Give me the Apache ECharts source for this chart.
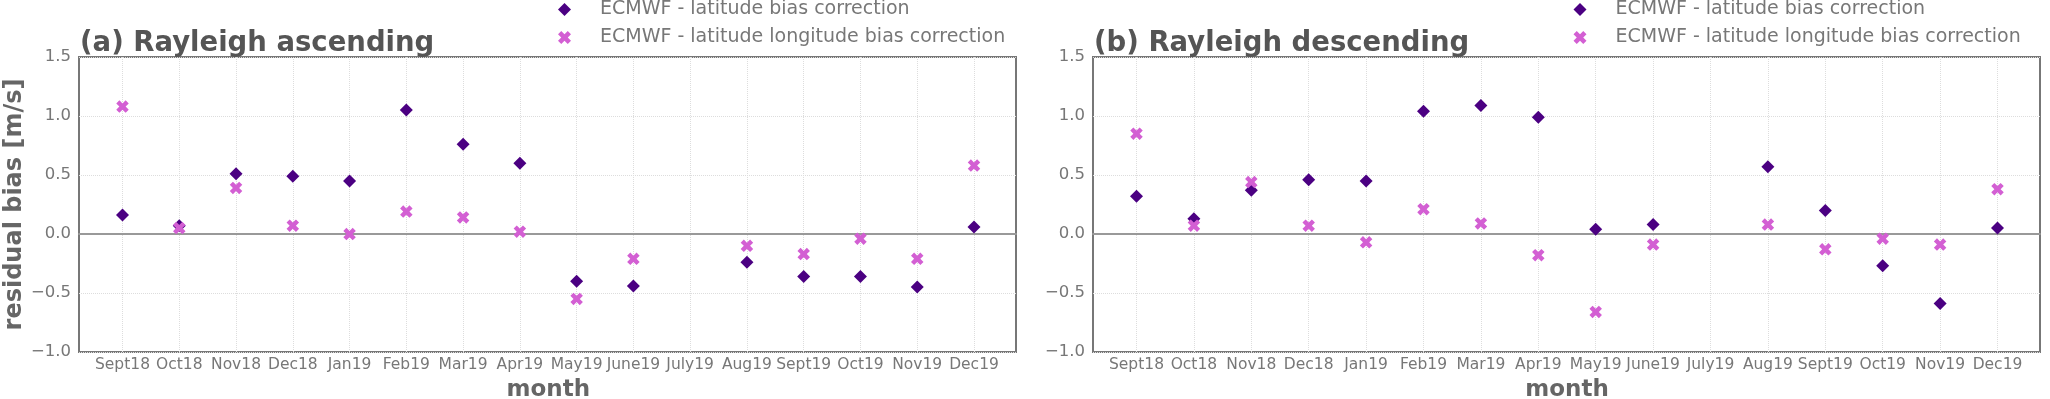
<!DOCTYPE html>
<html>
<head>
<meta charset="utf-8">
<script src="https://cdn.jsdelivr.net/npm/echarts@6/dist/echarts.min.js"></script>
<style>
  html, body { margin: 0; padding: 0; background: #fff; }
  #main { width: 2050px; height: 399px; }
</style>
</head>
<body>
<div id="main"></div>
<script>
var months = ['Sept18', 'Oct18', 'Nov18', 'Dec18', 'Jan19', 'Feb19', 'Mar19', 'Apr19',
    'May19', 'June19', 'July19', 'Aug19', 'Sept19', 'Oct19', 'Nov19', 'Dec19'];

// residual bias [m/s], null = no data that month
var ascLat    = [0.16, 0.07, 0.51, 0.49, 0.45, 1.05, 0.76, 0.60, -0.40, -0.44, null, -0.24, -0.36, -0.36, -0.45, 0.06];
var ascLatLon = [1.08, 0.05, 0.39, 0.07, 0.00, 0.19, 0.14, 0.02, -0.55, -0.21, null, -0.10, -0.17, -0.04, -0.21, 0.58];
var descLat    = [0.32, 0.13, 0.37, 0.46, 0.45, 1.04, 1.09, 0.99, 0.04, 0.08, null, 0.57, 0.20, -0.27, -0.59, 0.05];
var descLatLon = [0.85, 0.07, 0.44, 0.07, -0.07, 0.21, 0.09, -0.18, -0.66, -0.09, null, 0.08, -0.13, -0.04, -0.09, 0.38];

var panelTitles = ['(a) Rayleigh ascending', '(b) Rayleigh descending'];
var seriesNames = ['ECMWF - latitude bias correction', 'ECMWF - latitude longitude bias correction'];

var FONT = 'DejaVu Sans';
var COL_LAT = '#4b0082';
var COL_LATLON = '#d35fd3';
// filled "X" like matplotlib's marker='X'
var X_PATH = 'path://M1,0 L2,1 L3,0 L4,1 L3,2 L4,3 L3,4 L2,3 L1,4 L0,3 L1,2 L0,1 Z';

var chart = echarts.init(document.getElementById('main'));

// outer grid = frame + y axis, inner grid = month axis inset like matplotlib margins
var outer = [{left: 79, top: 57, width: 937, height: 295},
             {left: 1093, top: 57, width: 947, height: 295}];
var inner = [{left: 122.5, top: 57, width: 851.5, height: 295},
             {left: 1136.5, top: 57, width: 861, height: 295}];

var grids = [], xAxes = [], yAxes = [];
for (var p = 0; p < 2; p++) {
    grids.push({left: outer[p].left, top: outer[p].top, width: outer[p].width, height: outer[p].height,
        outerBoundsMode: 'none',
        show: true, borderColor: '#777', borderWidth: 2, backgroundColor: 'transparent'});
    grids.push({left: inner[p].left, top: inner[p].top, width: inner[p].width, height: inner[p].height,
        outerBoundsMode: 'none'});

    // outer x: only used for the zero line
    xAxes.push({gridIndex: 2 * p, type: 'value', min: 0, max: 1,
        axisLine: {show: true, onZero: true, lineStyle: {color: '#999', width: 2}},
        axisTick: {show: false}, axisLabel: {show: false}, splitLine: {show: false}});
    xAxes.push({gridIndex: 2 * p + 1, type: 'category', data: months, boundaryGap: false,
        name: 'month', nameLocation: 'middle', nameGap: 27,
        nameTextStyle: {fontFamily: FONT, fontSize: 23, fontWeight: 'bold', color: '#666'},
        axisLine: {show: false, onZero: false}, axisTick: {show: false},
        axisLabel: {interval: 0, margin: 5, fontFamily: FONT, fontSize: 15.5, color: '#777'},
        splitLine: {show: true, interval: 0, lineStyle: {color: '#ddd', type: 'dotted', width: 1}}});

    yAxes.push({gridIndex: 2 * p, type: 'value', min: -1, max: 1.5, interval: 0.5,
        name: p === 0 ? 'residual bias [m/s]' : '', nameLocation: 'middle', nameGap: 52,
        nameTextStyle: {fontFamily: FONT, fontSize: 24, fontWeight: 'bold', color: '#666'},
        axisLine: {show: false}, axisTick: {show: false},
        axisLabel: {margin: 8, fontFamily: FONT, fontSize: 16.5, color: '#777',
            formatter: function (v) { return v.toFixed(1).replace('-', '\u2212'); }},
        splitLine: {show: true, lineStyle: {color: '#ddd', type: 'dotted', width: 1}}});
    yAxes.push({gridIndex: 2 * p + 1, type: 'value', min: -1, max: 1.5, show: false,
        splitLine: {show: false}});
}

function legendFor(left) {
    return {
        left: left, top: 0, padding: 0, orient: 'vertical', itemGap: 9,
        itemWidth: 13, itemHeight: 13, selectedMode: false,
        textStyle: {fontFamily: FONT, fontSize: 19, color: '#777', lineHeight: 19, padding: [0, 0, 0, 24]},
        data: [{name: seriesNames[0], icon: 'diamond'}, {name: seriesNames[1], icon: X_PATH}]
    };
}

function scatter(name, data, axis, color, symbol, size) {
    return {type: 'scatter', name: name, data: data, xAxisIndex: axis, yAxisIndex: axis,
        symbol: symbol, symbolSize: size, itemStyle: {color: color, opacity: 1}};
}

chart.setOption({
    animation: false,
    backgroundColor: '#fff',
    title: [
        {text: panelTitles[0], left: 80, top: 30, padding: 0,
            textStyle: {fontFamily: FONT, fontSize: 27.5, fontWeight: 'bold', color: '#555'}},
        {text: panelTitles[1], left: 1094, top: 30, padding: 0,
            textStyle: {fontFamily: FONT, fontSize: 27.5, fontWeight: 'bold', color: '#555'}}
    ],
    legend: [legendFor(558), legendFor(1573.5)],
    grid: grids,
    xAxis: xAxes,
    yAxis: yAxes,
    series: [
        scatter(seriesNames[0], ascLat, 1, COL_LAT, 'diamond', 13),
        scatter(seriesNames[1], ascLatLon, 1, COL_LATLON, X_PATH, 12.5),
        scatter(seriesNames[0], descLat, 3, COL_LAT, 'diamond', 13),
        scatter(seriesNames[1], descLatLon, 3, COL_LATLON, X_PATH, 12.5)
    ]
});
</script>
</body>
</html>
